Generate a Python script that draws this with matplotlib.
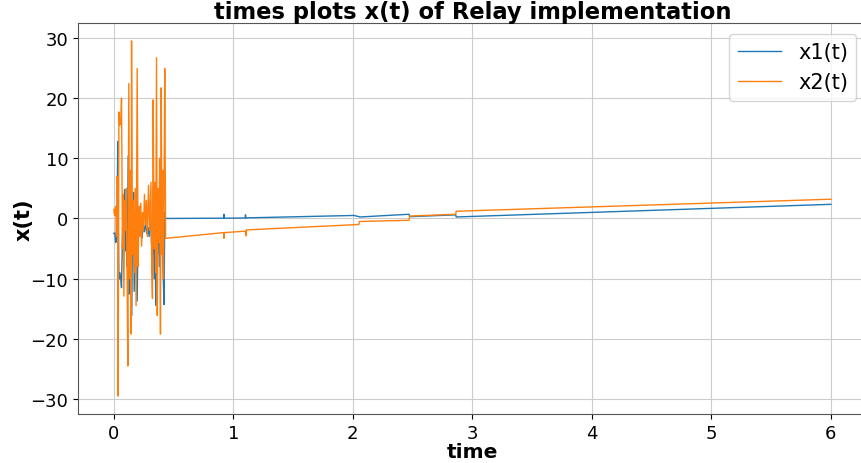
import matplotlib
matplotlib.use("Agg")
import matplotlib.pyplot as plt

# noisy start (t < 0.44) then slow drift
t1 = [0.0, 0.008, 0.015, 0.02, 0.027, 0.033, 0.038, 0.042, 0.05, 0.058, 0.064, 0.07,
      0.078, 0.085, 0.09, 0.097, 0.105, 0.112, 0.12, 0.125, 0.132, 0.14, 0.143, 0.148,
      0.155, 0.16, 0.165, 0.17, 0.178, 0.186, 0.195, 0.203, 0.21, 0.22, 0.23, 0.237,
      0.245, 0.255, 0.265, 0.275, 0.285, 0.295, 0.305, 0.315, 0.323, 0.33, 0.337, 0.345,
      0.35, 0.357, 0.365, 0.372, 0.38, 0.39, 0.398, 0.405, 0.412, 0.42, 0.426, 0.433,
      0.92, 0.921, 0.925, 1.1, 1.101, 1.105, 2.01, 2.06, 2.47, 2.475, 2.86, 2.865, 6.0]
x1 = [-2.5, -2.4, -4, -3.8, 2, 12.8, -2, -10.1, -9, -10, -11.5, -5,
      3, -3, 4.8, -5.4, 0, -8, 10.4, -12.6, 2, -6, 7.8, -16.2,
      -3, 1, 4.3, -12.1, 0, -5, -13.7, -1, -2.5, -0.5, -2, -3.2,
      -1, -2.2, -0.8, -2.5, -1.5, -3, 1, -4, -6, 5.3, -10, 2,
      -14.4, 0, -6, 3, -8, 8.1, -4, 2, -9, -14.3, 1, 0.0,
      0.05, 0.7, 0.05, 0.08, 0.6, 0.1, 0.5, 0.25, 0.7, 0.3, 0.6, 0.25, 2.35]

t2 = [0.0, 0.006, 0.015, 0.022, 0.028, 0.033, 0.036, 0.042, 0.05, 0.058, 0.064, 0.072,
      0.078, 0.084, 0.09, 0.097, 0.104, 0.11, 0.117, 0.125, 0.132, 0.14, 0.145, 0.148,
      0.155, 0.162, 0.17, 0.178, 0.186, 0.195, 0.203, 0.21, 0.218, 0.225, 0.232, 0.24,
      0.248, 0.256, 0.264, 0.272, 0.28, 0.29, 0.3, 0.31, 0.317, 0.323, 0.329, 0.336,
      0.343, 0.35, 0.357, 0.363, 0.37, 0.377, 0.383, 0.39, 0.396, 0.403, 0.41, 0.415,
      0.42, 0.426, 0.433,
      0.92, 0.921, 0.925, 1.105, 1.106, 1.11, 2.05, 2.055, 2.47, 2.475, 2.86, 2.865, 6.0]
x2 = [1.5, 0.5, 2.0, -3, 7, 1, -29.5, 17.7, 15.5, 16, 20, -5,
      4, -12.9, 3, -2, 5, -8, -24.5, 22.4, -10, 8, -19.2, 29.5,
      -6, 3, -9, 5, -14.5, 24.9, -8, 2, -3, 2.5, -4.6, 1,
      -2, 4, -1, 3, -3, 5.5, -2, 6, -8, -13.3, 19.7, -5,
      6, -9, 26.7, -16.1, 5, -4, 10, -19.2, 21.7, -6, 8, -10,
      5, 24.9, -3.3,
      -2.35, -3.3, -2.35, -2.1, -2.9, -1.9, -1.0, -0.5, -0.3, 0.4, 0.7, 1.2, 3.2]


def main():
    fig = plt.figure(figsize=(8.62, 4.64), dpi=100)
    ax = fig.add_axes([0.0905, 0.106, 0.915, 0.842])

    ax.plot(t1, x1, color='#1f77b4', lw=1, label='x1(t)')
    ax.plot(t2, x2, color='#ff7f0e', lw=1, label='x2(t)')

    ax.grid(True, color='#cccccc', lw=0.8)
    ax.set_axisbelow(True)
    for s in ax.spines.values():
        s.set_color('#555555')

    ax.set_yticks([-30, -20, -10, 0, 10, 20, 30])
    ax.tick_params(labelsize=13)
    ax.set_xlabel('time', fontsize=14.5, fontweight='bold', labelpad=0)
    ax.set_ylabel('x(t)', fontsize=15, fontweight='bold', labelpad=-2)
    ax.set_title('times plots x(t) of Relay implementation', fontsize=16.3,
                 fontweight='bold', pad=2)
    ax.legend(loc='upper right', fontsize=15, handlelength=2.1)

    fig.savefig('out.png', dpi=100)


if __name__ == "__main__":
    main()
